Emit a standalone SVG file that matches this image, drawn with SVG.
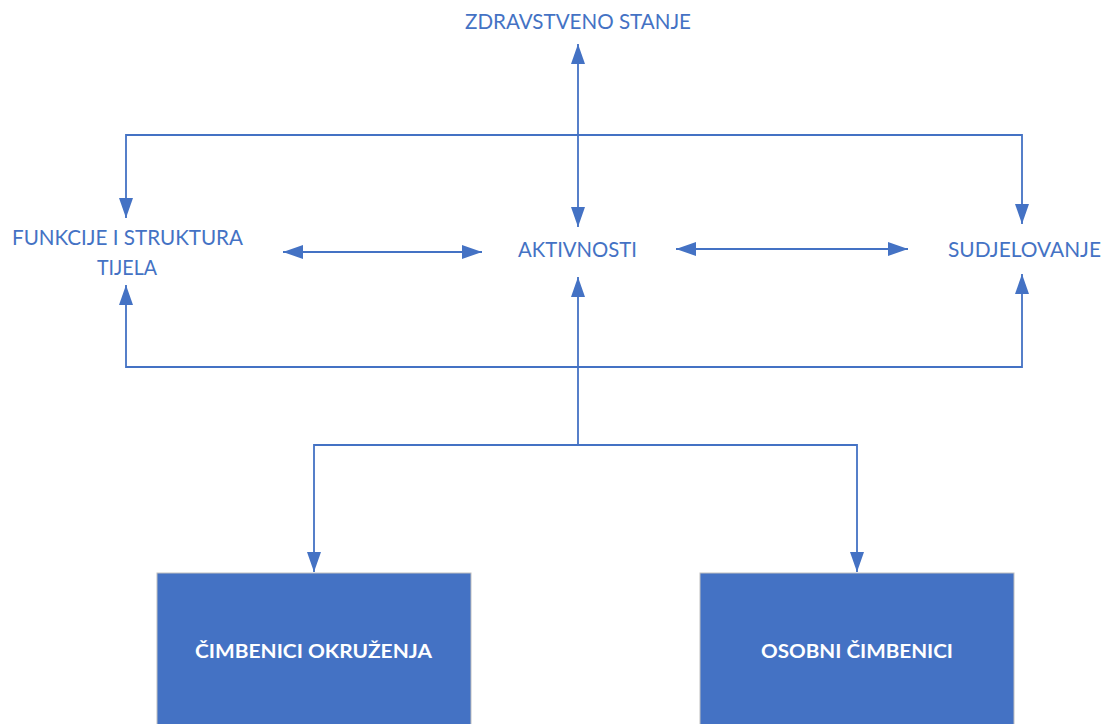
<svg xmlns="http://www.w3.org/2000/svg" width="1106" height="724" viewBox="0 0 1106 724">
<style>
.lbl{font-family:Lato,"Liberation Sans",sans-serif;font-size:21px;fill:#4472C4}
.box{fill:#4472C4;stroke:#bfbfbf;stroke-width:1}
.btxt{font-family:Lato,"Liberation Sans",sans-serif;font-size:18px;font-weight:bold;fill:#ffffff}
.ln{fill:none;stroke:#4472C4;stroke-width:1.8}
</style>
<defs>
<marker id="ah" markerUnits="userSpaceOnUse" markerWidth="20" markerHeight="14" refX="20" refY="7" orient="auto-start-reverse" viewBox="0 0 20 14">
<path d="M0,0 L20,7 L0,14 z" fill="#4472C4"/>
</marker>
</defs>
<rect width="1106" height="724" fill="#ffffff"/>
<g id="connectors">
<line class="ln" x1="578" y1="44" x2="578" y2="227" marker-start="url(#ah)" marker-end="url(#ah)"/>
<polyline class="ln" points="126,218 126,135 1022,135 1022,224" marker-start="url(#ah)" marker-end="url(#ah)"/>
<line class="ln" x1="283" y1="252" x2="482" y2="252" marker-start="url(#ah)" marker-end="url(#ah)"/>
<line class="ln" x1="676" y1="249" x2="908" y2="249" marker-start="url(#ah)" marker-end="url(#ah)"/>
<polyline class="ln" points="126,285 126,367 1022,367 1022,274" marker-start="url(#ah)" marker-end="url(#ah)"/>
<line class="ln" x1="578" y1="445" x2="578" y2="277" marker-end="url(#ah)"/>
<polyline class="ln" points="314,572 314,445 857,445 857,572" marker-start="url(#ah)" marker-end="url(#ah)"/>
</g>
<g id="zdravstveno">
<text class="lbl" x="465" y="29" font-size="20" textLength="226" lengthAdjust="spacingAndGlyphs">ZDRAVSTVENO STANJE</text>
</g>
<g id="funkcije">
<text class="lbl" x="12" y="245" textLength="231" lengthAdjust="spacingAndGlyphs">FUNKCIJE I STRUKTURA</text>
<text class="lbl" x="97" y="275" textLength="60" lengthAdjust="spacingAndGlyphs">TIJELA</text>
</g>
<g id="aktivnosti">
<text class="lbl" x="518" y="257" textLength="119" lengthAdjust="spacingAndGlyphs">AKTIVNOSTI</text>
</g>
<g id="sudjelovanje">
<text class="lbl" x="948" y="257" textLength="153" lengthAdjust="spacingAndGlyphs">SUDJELOVANJE</text>
</g>
<g id="okruzenje">
<rect class="box" x="157" y="573" width="314" height="160"/>
<text class="btxt" x="195" y="658" textLength="237" lengthAdjust="spacingAndGlyphs">ČIMBENICI OKRUŽENJA</text>
</g>
<g id="osobni">
<rect class="box" x="700" y="573" width="314" height="160"/>
<text class="btxt" x="761" y="658" textLength="192" lengthAdjust="spacingAndGlyphs">OSOBNI ČIMBENICI</text>
</g>
</svg>
